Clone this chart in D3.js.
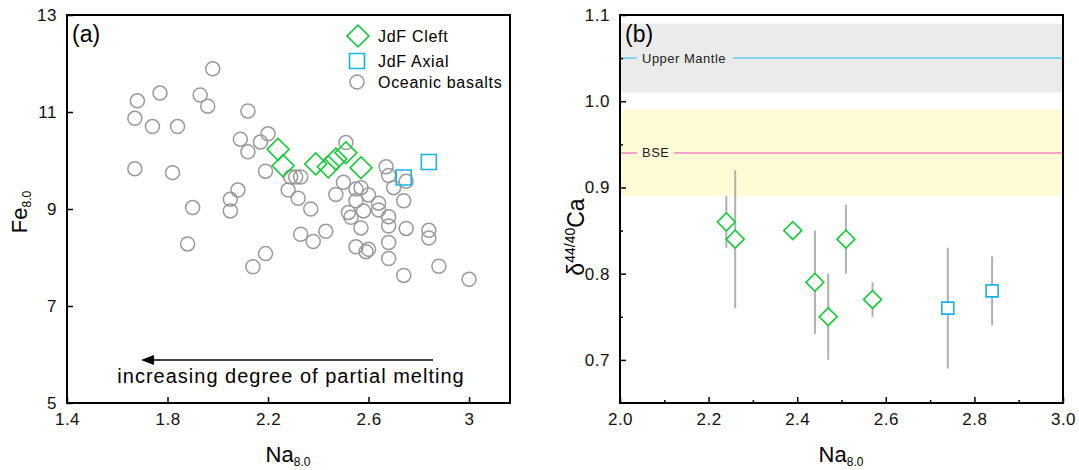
<!DOCTYPE html>
<html>
<head>
<meta charset="utf-8">
<script src="https://cdn.jsdelivr.net/npm/d3@7"></script>
<style>
  body { margin: 0; background: #fff; }
  svg { font-family: "Liberation Sans", Arial, sans-serif; }
</style>
</head>
<body>
<svg id="chart" width="1079" height="470"></svg>
<script>
// panel (a): Fe8.0 vs Na8.0
const basaltNa = [1.98, 1.77, 1.68, 1.93, 1.96, 1.67, 1.74, 1.84, 2.12, 2.20, 2.09, 2.17, 2.12,
  1.67, 1.82, 2.19, 2.29, 2.31, 2.33, 2.51, 2.08, 2.05, 2.05, 1.90, 2.28, 2.32, 2.37, 2.50,
  2.47, 2.55, 2.57, 2.60, 2.55, 2.64, 2.64, 2.58, 2.52, 2.53, 2.68, 2.68, 2.57, 2.67, 2.68,
  2.70, 2.75, 2.74, 2.75, 2.84, 2.84, 2.43, 2.33, 2.38, 2.55, 2.60, 2.59, 2.68, 2.68, 1.88,
  2.19, 2.14, 2.88, 2.74, 3.00];
const basaltFe = [11.89, 11.39, 11.23, 11.35, 11.12, 10.87, 10.70, 10.70, 11.02, 10.55, 10.44, 10.38, 10.18,
  9.83, 9.75, 9.78, 9.66, 9.66, 9.66, 10.37, 9.39, 9.20, 8.96, 9.03, 9.39, 9.22, 9.00, 9.55,
  9.30, 9.41, 9.44, 9.29, 9.17, 9.12, 8.98, 8.96, 8.93, 8.83, 8.84, 8.65, 8.61, 9.87, 9.69,
  9.44, 9.57, 9.17, 8.60, 8.56, 8.40, 8.54, 8.48, 8.33, 8.22, 8.17, 8.12, 8.31, 7.98, 8.28,
  8.08, 7.81, 7.82, 7.63, 7.55];
const cleftNa = [2.24, 2.26, 2.39, 2.44, 2.47, 2.51, 2.57];
const cleftFe = [10.23, 9.89, 9.93, 9.87, 10.03, 10.16, 9.85];
const axialNa = [2.74, 2.84];
const axialFe = [9.65, 9.97];
const ticksA_x = [1.4, 1.8, 2.2, 2.6, 3.0];
const ticksA_y = [5, 7, 9, 11, 13];

// panel (b): d44/40Ca vs Na8.0
const cleftCa = [0.86, 0.84, 0.85, 0.79, 0.75, 0.84, 0.77];
const cleftCaLo = [0.83, 0.76, 0.85, 0.73, 0.70, 0.80, 0.75];
const cleftCaHi = [0.89, 0.92, 0.85, 0.85, 0.80, 0.88, 0.79];
const axialCa = [0.76, 0.78];
const axialCaLo = [0.69, 0.74];
const axialCaHi = [0.83, 0.82];
const ticksB_x = [2.0, 2.2, 2.4, 2.6, 2.8, 3.0];
const ticksB_y = [0.7, 0.8, 0.9, 1.0, 1.1];
const refBands = [
  { name: "Upper Mantle", value: 1.05, lo: 1.01, hi: 1.09, band: "#ebebeb", line: "#85d3f0", labelW: 96 },
  { name: "BSE", value: 0.94, lo: 0.89, hi: 0.99, band: "#fffbd6", line: "#f3a3c6", labelW: 37 }
];

const green = "#14c83a", blue = "#1ab2e6", grey = "#9a9a9a";

const svg = d3.select("#chart");

function frame(g, x, y) {
  g.append("rect")
    .attr("x", x.range()[0]).attr("y", y.range()[1])
    .attr("width", x.range()[1] - x.range()[0])
    .attr("height", y.range()[0] - y.range()[1])
    .attr("fill", "none").attr("stroke", "#000").attr("stroke-width", 2);
}

function styleAxis(sel) {
  sel.select(".domain").remove();
  sel.selectAll("line").attr("stroke", "#000").attr("stroke-width", 1.5);
  sel.selectAll("text").attr("font-size", 17).attr("letter-spacing", 0.5).attr("fill", "#111")
    .attr("font-family", "Liberation Sans, Arial, sans-serif");
}

function diamond(size) {
  return d3.symbol().type(d3.symbolSquare).size(size)();
}

// ---------- panel (a) ----------
const xa = d3.scaleLinear().domain([1.4, 3.163]).range([67, 510]);
const ya = d3.scaleLinear().domain([5, 13]).range([403, 15]);
const ga = svg.append("g");

ga.append("g").attr("transform", `translate(0,${ya.range()[0]})`)
  .call(d3.axisBottom(xa).tickValues(ticksA_x).tickSize(-6).tickPadding(10).tickFormat(d3.format("~g")))
  .call(styleAxis);
ga.append("g").attr("transform", `translate(${xa.range()[0]},0)`)
  .call(d3.axisLeft(ya).tickValues(ticksA_y).tickSize(-6).tickPadding(10))
  .call(styleAxis);

ga.append("g").selectAll("circle")
  .data(d3.zip(basaltNa, basaltFe))
  .join("circle")
  .attr("cx", d => xa(d[0])).attr("cy", d => ya(d[1])).attr("r", 7)
  .attr("fill", "none").attr("stroke", grey).attr("stroke-width", 1.5);

ga.append("g").selectAll("path")
  .data(d3.zip(cleftNa, cleftFe))
  .join("path")
  .attr("d", diamond(240))
  .attr("transform", d => `translate(${xa(d[0])},${ya(d[1])}) rotate(45)`)
  .attr("fill", "none").attr("stroke", green).attr("stroke-width", 1.6);

ga.append("g").selectAll("path")
  .data(d3.zip(axialNa, axialFe))
  .join("path")
  .attr("d", d3.symbol().type(d3.symbolSquare).size(225)())
  .attr("transform", d => `translate(${xa(d[0])},${ya(d[1])})`)
  .attr("fill", "none").attr("stroke", blue).attr("stroke-width", 1.6);

// legend
const legend = ga.append("g");
legend.append("path").attr("d", diamond(240)).attr("transform", "translate(358,36) rotate(45)")
  .attr("fill", "none").attr("stroke", green).attr("stroke-width", 1.6);
legend.append("path").attr("d", d3.symbol().type(d3.symbolSquare).size(225)()).attr("transform", "translate(357,61)")
  .attr("fill", "none").attr("stroke", blue).attr("stroke-width", 1.6);
legend.append("circle").attr("cx", 357).attr("cy", 82).attr("r", 7)
  .attr("fill", "none").attr("stroke", grey).attr("stroke-width", 1.5);
legend.selectAll("text")
  .data([["JdF Cleft", 42], ["JdF Axial", 67], ["Oceanic basalts", 88]])
  .join("text")
  .attr("x", 378).attr("y", d => d[1]).attr("font-size", 16).attr("letter-spacing", 0.7)
  .text(d => d[0]);

ga.append("text").attr("x", 72).attr("y", 42).attr("font-size", 23).text("(a)");

// arrow
ga.append("line").attr("x1", 433).attr("x2", 150).attr("y1", 360).attr("y2", 360)
  .attr("stroke", "#000").attr("stroke-width", 1.6);
ga.append("path").attr("d", "M141,360 L154,355 L154,365 Z").attr("fill", "#000");
ga.append("text").attr("x", 291).attr("y", 383).attr("text-anchor", "middle")
  .attr("font-size", 20).attr("letter-spacing", 1).text("increasing degree of partial melting");

// axis titles
const xtA = ga.append("text").attr("x", 288).attr("y", 462).attr("text-anchor", "middle").attr("font-size", 22);
xtA.append("tspan").text("Na");
xtA.append("tspan").attr("font-size", 12).attr("dy", 4).text("8.0");
const ytA = ga.append("text").attr("transform", "translate(27,212) rotate(-90)").attr("text-anchor", "middle").attr("font-size", 22);
ytA.append("tspan").text("Fe");
ytA.append("tspan").attr("font-size", 12).attr("dy", 4).text("8.0");

// ---------- panel (b) ----------
const xb = d3.scaleLinear().domain([2.0, 3.0]).range([620, 1063]);
const yb = d3.scaleLinear().domain([0.65, 1.1]).range([403, 15]);
const gb = svg.append("g");

gb.selectAll("rect.band")
  .data(refBands)
  .join("rect").attr("class", "band")
  .attr("x", xb.range()[0]).attr("width", xb.range()[1] - xb.range()[0])
  .attr("y", d => yb(d.hi)).attr("height", d => yb(d.lo) - yb(d.hi))
  .attr("fill", d => d.band);

refBands.forEach(d => {
  const y = yb(d.value);
  gb.append("line").attr("x1", xb.range()[0]).attr("x2", 637).attr("y1", y).attr("y2", y)
    .attr("stroke", d.line).attr("stroke-width", 2);
  gb.append("line").attr("x1", 637 + d.labelW).attr("x2", xb.range()[1]).attr("y1", y).attr("y2", y)
    .attr("stroke", d.line).attr("stroke-width", 2);
  gb.append("text").attr("x", 642).attr("y", y + 4.5).attr("font-size", 13).attr("letter-spacing", 0.5)
    .attr("fill", "#222").text(d.name);
});

gb.append("g").attr("transform", `translate(0,${yb.range()[0]})`)
  .call(d3.axisBottom(xb).tickValues(ticksB_x).tickSize(-6).tickPadding(10).tickFormat(d3.format(".1f")))
  .call(styleAxis);
gb.append("g").attr("transform", `translate(0,${yb.range()[0]})`)
  .call(d3.axisBottom(xb).tickValues(d3.range(2.1, 3.0, 0.2)).tickSize(-3).tickFormat(""))
  .call(styleAxis);
gb.append("g").attr("transform", `translate(${xb.range()[0]},0)`)
  .call(d3.axisLeft(yb).tickValues(ticksB_y).tickSize(-6).tickPadding(10).tickFormat(d3.format(".1f")))
  .call(styleAxis);
gb.append("g").attr("transform", `translate(${xb.range()[0]},0)`)
  .call(d3.axisLeft(yb).tickValues([0.75, 0.85, 0.95, 1.05]).tickSize(-3).tickFormat(""))
  .call(styleAxis);

// error bars
const errs = cleftNa.map((n, i) => [n, cleftCaLo[i], cleftCaHi[i]])
  .concat(axialNa.map((n, i) => [n, axialCaLo[i], axialCaHi[i]]));
gb.append("g").selectAll("line")
  .data(errs.filter(d => d[2] > d[1]))
  .join("line")
  .attr("x1", d => xb(d[0])).attr("x2", d => xb(d[0]))
  .attr("y1", d => yb(d[1])).attr("y2", d => yb(d[2]))
  .attr("stroke", "#b0b0b0").attr("stroke-width", 2);

gb.append("g").selectAll("path")
  .data(d3.zip(cleftNa, cleftCa))
  .join("path")
  .attr("d", diamond(160))
  .attr("transform", d => `translate(${xb(d[0])},${yb(d[1])}) rotate(45)`)
  .attr("fill", "#fff").attr("stroke", green).attr("stroke-width", 1.6);

gb.append("g").selectAll("path")
  .data(d3.zip(axialNa, axialCa))
  .join("path")
  .attr("d", d3.symbol().type(d3.symbolSquare).size(144)())
  .attr("transform", d => `translate(${xb(d[0])},${yb(d[1])})`)
  .attr("fill", "#fff").attr("stroke", blue).attr("stroke-width", 1.6);

frame(ga, xa, ya);
frame(gb, xb, yb);

gb.append("text").attr("x", 625).attr("y", 42).attr("font-size", 23).text("(b)");

const xtB = gb.append("text").attr("x", 841).attr("y", 462).attr("text-anchor", "middle").attr("font-size", 22);
xtB.append("tspan").text("Na");
xtB.append("tspan").attr("font-size", 12).attr("dy", 4).text("8.0");
const ytB = gb.append("text").attr("transform", "translate(584,237) rotate(-90)").attr("text-anchor", "middle").attr("font-size", 23);
ytB.append("tspan").text("δ");
ytB.append("tspan").attr("font-size", 14).attr("dy", -9).text("44/40");
ytB.append("tspan").attr("dy", 9).text("Ca");
</script>
</body>
</html>
